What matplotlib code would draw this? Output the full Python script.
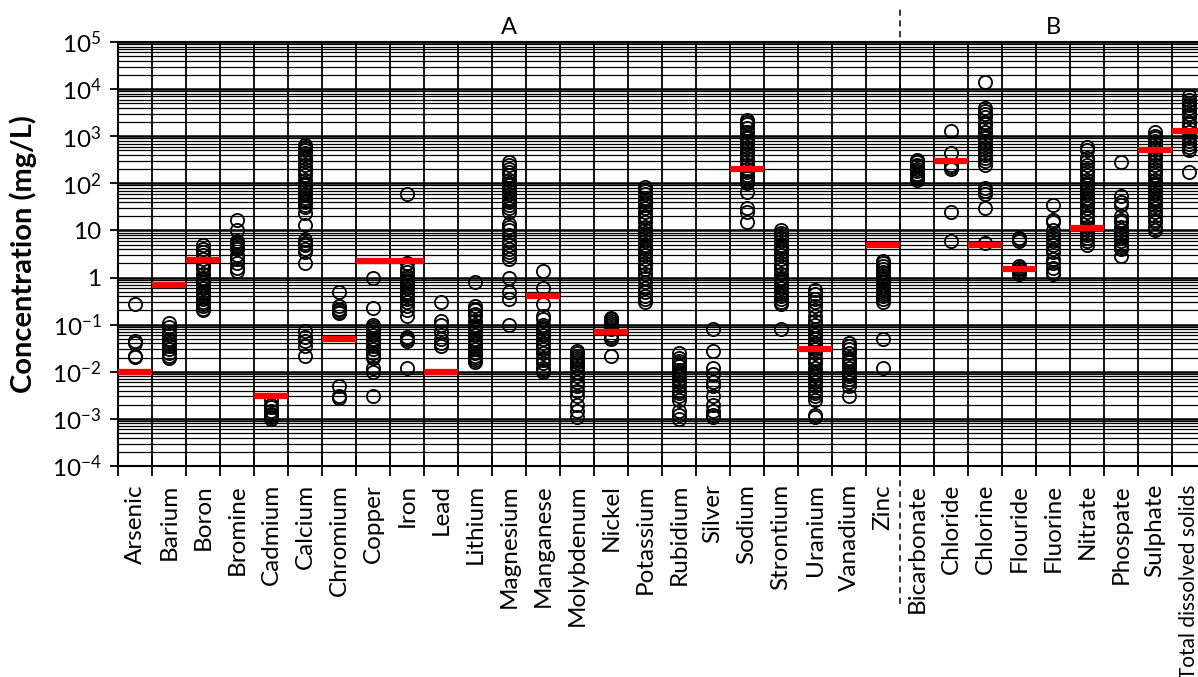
"""
Scatter of measured concentrations per parameter (log scale) with
guideline values as red bars, Excel-style gridded chart.
"""

import numpy as np
import matplotlib
matplotlib.use('Agg')
import matplotlib.pyplot as plt
from matplotlib.transforms import blended_transform_factory

# ── data (mg/L) ──
categories = ['Arsenic', 'Barium', 'Boron', 'Bromine', 'Cadmium', 'Calcium',
              'Chromium', 'Copper', 'Iron', 'Lead', 'Lithium', 'Magnesium',
              'Manganese', 'Molybdenum', 'Nickel', 'Potassium', 'Rubidium',
              'Silver', 'Sodium', 'Strontium', 'Uranium', 'Vanadium', 'Zinc',
              'Bicarbonate', 'Chloride', 'Chlorine', 'Flouride', 'Fluorine',
              'Nitrate', 'Phospate', 'Sulphate', 'Total dissolved solids']

arsenic = [0.27, 0.045, 0.04, 0.022, 0.021]
barium = [0.11, 0.09, 0.07, 0.06, 0.05, 0.045, 0.04, 0.035, 0.03, 0.025, 0.022, 0.02]
boron = [5.0, 4.0, 3.5, 3.0, 2.5, 2.0, 1.8, 1.5, 1.2, 1.0, 0.9, 0.8, 0.7, 0.6,
         0.5, 0.45, 0.4, 0.35, 0.3, 0.27, 0.25, 0.22, 0.2]
bromine = [17, 10, 6, 5.5, 5, 4.5, 4, 3, 2.5, 2, 1.6, 1.4]
cadmium = [0.0025, 0.002, 0.0018, 0.0015, 0.0013, 0.0012, 0.0011, 0.001]
calcium = [650, 600, 550, 500, 450, 400, 350, 300, 250, 200, 170, 150, 120, 100,
           90, 80, 70, 60, 50, 45, 40, 35, 32, 23, 13, 6.3, 5.5, 5, 4, 3.5, 2.0,
           0.075, 0.055, 0.045, 0.035, 0.022]
chromium = [0.5, 0.25, 0.22, 0.2, 0.19, 0.18, 0.005, 0.003, 0.0028]
copper = [1.0, 0.23, 0.1, 0.09, 0.08, 0.07, 0.06, 0.05, 0.045, 0.04, 0.035,
          0.03, 0.025, 0.022, 0.02, 0.012, 0.01, 0.003]
iron = [60, 2.0, 1.5, 1.3, 1.1, 1.0, 0.9, 0.8, 0.7, 0.6, 0.5, 0.45, 0.4, 0.35,
        0.3, 0.25, 0.2, 0.15, 0.055, 0.05, 0.045, 0.012]
lead = [0.3, 0.12, 0.1, 0.07, 0.05, 0.04, 0.035]
lithium = [0.8, 0.25, 0.22, 0.2, 0.17, 0.15, 0.12, 0.1, 0.09, 0.08, 0.07, 0.06,
           0.05, 0.045, 0.04, 0.035, 0.03, 0.025, 0.022, 0.02, 0.018, 0.016]
magnesium = [290, 250, 200, 170, 150, 120, 100, 90, 80, 70, 60, 50, 45, 40, 35,
             30, 25, 14, 12, 10, 8, 6, 5, 4, 3.5, 3, 2.5, 1.0, 0.5, 0.35, 0.1]
manganese = [1.4, 0.6, 0.27, 0.15, 0.13, 0.1, 0.09, 0.08, 0.07, 0.06, 0.05, 0.04,
             0.035, 0.03, 0.025, 0.02, 0.018, 0.015, 0.012, 0.011, 0.01]
molybdenum = [0.028, 0.025, 0.022, 0.02, 0.018, 0.016, 0.014, 0.012, 0.01, 0.008,
              0.006, 0.005, 0.004, 0.003, 0.002, 0.0015, 0.0011]
nickel = [0.14, 0.13, 0.12, 0.11, 0.1, 0.09, 0.08, 0.06, 0.055, 0.05, 0.022]
potassium = [85, 70, 60, 50, 45, 40, 35, 30, 25, 20, 18, 15, 12, 10, 9, 8, 7, 6,
             5, 4.5, 4, 3.5, 3, 2.5, 2, 1.8, 1.5, 1.2, 1.0, 0.8, 0.6, 0.5, 0.4,
             0.35, 0.3]
rubidium = [0.025, 0.02, 0.017, 0.015, 0.013, 0.011, 0.01, 0.009, 0.008, 0.007,
            0.006, 0.005, 0.004, 0.0035, 0.003, 0.0025, 0.0015, 0.0012, 0.001]
silver = [0.08, 0.027, 0.012, 0.009, 0.006, 0.005, 0.003, 0.002, 0.0015, 0.0012, 0.0011]
sodium = [2200, 2000, 1800, 1500, 1200, 1000, 900, 800, 700, 600, 500, 450, 400,
          350, 300, 250, 200, 170, 150, 130, 110, 100, 65, 30, 25, 15]
strontium = [10, 9, 8, 7, 6, 5, 4.5, 4, 3.5, 3, 2.5, 2, 1.8, 1.5, 1.2, 1.0, 0.9,
             0.8, 0.7, 0.6, 0.5, 0.45, 0.4, 0.35, 0.3, 0.27, 0.08]
uranium = [0.55, 0.45, 0.35, 0.3, 0.25, 0.2, 0.15, 0.12, 0.1, 0.08, 0.07, 0.06,
           0.05, 0.04, 0.035, 0.03, 0.025, 0.02, 0.018, 0.015, 0.012, 0.01, 0.009,
           0.008, 0.007, 0.006, 0.005, 0.004, 0.0035, 0.003, 0.0025, 0.0012, 0.0011]
vanadium = [0.04, 0.035, 0.03, 0.025, 0.02, 0.018, 0.016, 0.014, 0.012, 0.01,
            0.009, 0.008, 0.007, 0.006, 0.005, 0.003]
zinc = [2.3, 2.0, 1.8, 1.5, 1.3, 1.1, 1.0, 0.9, 0.8, 0.7, 0.6, 0.55, 0.5, 0.45,
        0.4, 0.35, 0.3, 0.05, 0.012]
bicarbonate = [320, 300, 280, 250, 230, 200, 180, 160, 150, 140, 130, 120]
chloride = [1300, 450, 250, 220, 200, 25, 6]
chlorine = [14000, 4000, 3500, 3000, 2500, 2000, 1800, 1500, 1200, 1000, 900, 800,
            700, 600, 500, 450, 400, 350, 300, 250, 80, 70, 60, 30, 5.5]
flouride = [7, 6.5, 6, 1.8, 1.6, 1.5, 1.4, 1.3, 1.2]
fluorine = [35, 17, 15, 10, 8, 7, 6, 5, 4, 3.5, 2.5, 2, 1.6, 1.3, 1.2]
nitrate = [600, 500, 350, 300, 250, 200, 170, 150, 120, 100, 90, 80, 70, 60, 50,
           45, 40, 35, 30, 25, 20, 18, 15, 12, 10, 9, 8, 7, 6, 5]
phospate = [280, 55, 40, 35, 20, 17, 15, 12, 10, 9, 8, 7, 6, 5, 4.5, 4, 2.8]
sulphate = [1200, 1000, 900, 800, 700, 600, 500, 450, 400, 350, 300, 250, 200, 170,
            150, 120, 100, 90, 80, 70, 60, 50, 45, 40, 35, 30, 25, 20, 17, 15, 12, 10]
tds = [7000, 6000, 5000, 4500, 4000, 3500, 3000, 2500, 2000, 1800, 1500, 1200,
       1000, 900, 800, 700, 600, 500, 170]

samples = [arsenic, barium, boron, bromine, cadmium, calcium, chromium, copper,
           iron, lead, lithium, magnesium, manganese, molybdenum, nickel,
           potassium, rubidium, silver, sodium, strontium, uranium, vanadium,
           zinc, bicarbonate, chloride, chlorine, flouride, fluorine, nitrate,
           phospate, sulphate, tds]

# guideline values (red bars), None = no guideline
guideline = [0.01, 0.7, 2.4, None, 0.003, None, 0.05, 2.2, 2.2, 0.01, None, None,
             0.4, None, 0.07, None, None, None, 200, None, 0.03, None, 5.0,
             None, 300, 5.0, 1.5, None, 11, None, 500, 1300]

n_group_a = 23

# ── style ──
plt.rcParams['font.family'] = ['Lato', 'DejaVu Sans']
plt.rcParams['mathtext.default'] = 'regular'

fig = plt.figure(figsize=(11.98, 6.77), dpi=100)
ax = fig.add_axes([118 / 1198, 211 / 677, 1088 / 1198, 424 / 677])

# scatter of samples
for i, vals in enumerate(samples):
    ax.plot([i] * len(vals), vals, 'o', mfc='none', mec='black',
            ms=9.5, mew=1.3, zorder=3, clip_on=False)

# guideline bars
for i, g in enumerate(guideline):
    if g is not None:
        ax.hlines(g, i - 0.5, i + 0.5, colors='#ff0000', lw=4.5, zorder=4)

ax.set_yscale('log')
ax.set_ylim(1e-4, 1e5)
ax.set_xlim(-0.5, len(categories) - 0.5)

# y ticks
yticks = [1e-4, 1e-3, 1e-2, 1e-1, 1, 10, 1e2, 1e3, 1e4, 1e5]
ylabels = ['10$^{-4}$', '10$^{-3}$', '10$^{-2}$', '10$^{-1}$', '1', '10',
           '10$^{2}$', '10$^{3}$', '10$^{4}$', '10$^{5}$']
ax.set_yticks(yticks)
ax.set_yticklabels(ylabels, fontsize=17.5)
ax.yaxis.set_minor_locator(matplotlib.ticker.LogLocator(base=10, subs=np.arange(2, 10)))
ax.yaxis.set_minor_formatter(matplotlib.ticker.NullFormatter())
ax.tick_params(axis='y', which='major', direction='out', length=6, width=1.3, pad=6)
ax.tick_params(axis='y', which='minor', length=0)

# x ticks: labels at centres, tick marks / grid at boundaries
ax.set_xticks(np.arange(len(categories)))
ax.set_xticklabels(categories, rotation=90, fontsize=17.5)
ax.get_xticklabels()[-1].set_fontsize(15)   # long label must fit above the edge
ax.set_xticks(np.arange(len(categories) + 1) - 0.5, minor=True)
ax.tick_params(axis='x', which='major', length=0, pad=13)
ax.tick_params(axis='x', which='minor', direction='inout', length=14, width=1.3)

ax.grid(True, axis='y', which='major', color='black', lw=1.8, zorder=1)
ax.grid(True, axis='y', which='minor', color='black', lw=0.9, zorder=1)
ax.grid(True, axis='x', which='minor', color='black', lw=1.3, zorder=1)
ax.set_axisbelow(True)

for s in ax.spines.values():
    s.set_linewidth(1.5)
    s.set_color('black')

ax.set_ylabel('Concentration (mg/L)', fontsize=21, fontweight='bold', labelpad=11)

# group divider and group labels
trans = blended_transform_factory(ax.transData, ax.transAxes)
ax.plot([n_group_a - 0.5, n_group_a - 0.5], [-0.325, 1.08], transform=trans,
        ls=(0, (4, 3)), color='black', lw=1.1, clip_on=False, zorder=5)
ax.text(11, 1.035, 'A', transform=trans, ha='center', va='center', fontsize=17)
ax.text(27, 1.035, 'B', transform=trans, ha='center', va='center', fontsize=17)

plt.savefig('out.png', dpi=100)
